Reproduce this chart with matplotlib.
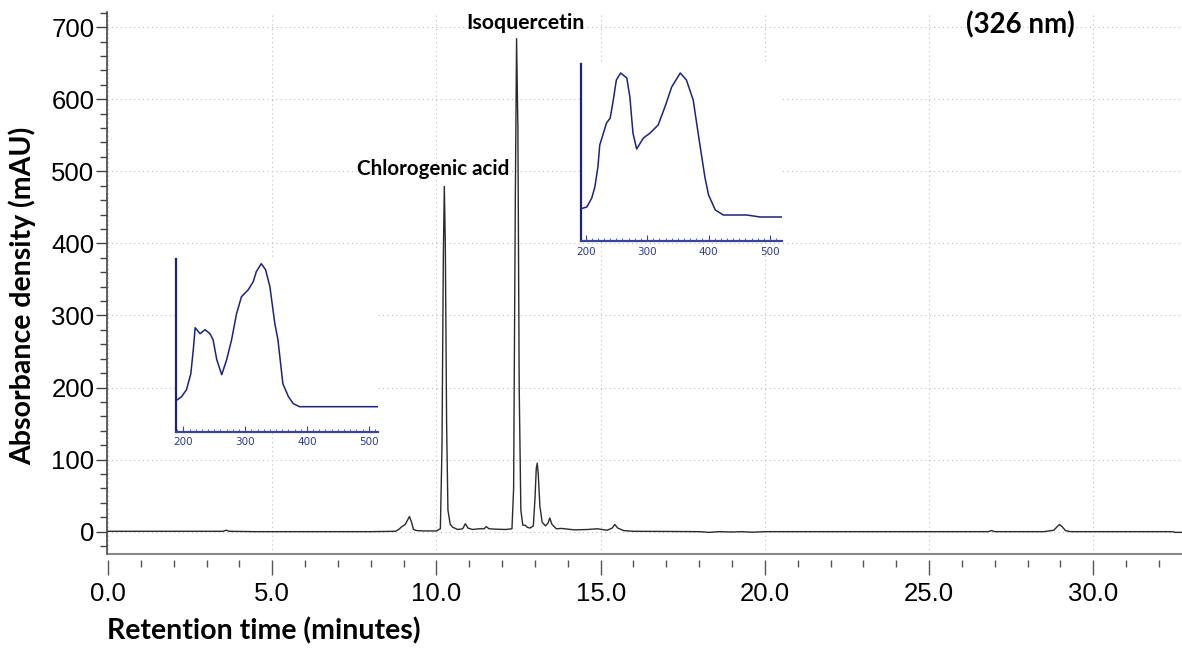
import matplotlib.pyplot as plt
from matplotlib.ticker import MultipleLocator

# chromatogram (retention time in min, absorbance in mAU)
rt = [0.0, 1.0, 2.0, 3.0, 3.5, 3.6, 3.7, 4.5, 6.0, 8.0,
      8.75, 8.85, 8.95, 9.05, 9.12, 9.18, 9.25, 9.3, 9.4, 9.6,
      10.0, 10.12, 10.17, 10.21, 10.24, 10.27, 10.31, 10.35, 10.42, 10.5,
      10.65, 10.8, 10.88, 10.96, 11.1, 11.3, 11.45, 11.52, 11.6, 11.8,
      12.1, 12.3, 12.35, 12.4, 12.44, 12.48, 12.52, 12.57, 12.63, 12.7,
      12.77, 12.85, 12.95, 13.0, 13.04, 13.07, 13.1, 13.15, 13.22, 13.32,
      13.4, 13.45, 13.52, 13.65, 13.8, 14.2, 14.6, 14.9, 15.2, 15.35,
      15.43, 15.52, 15.7, 16.0, 17.0, 18.0, 18.3, 18.6, 19.0, 19.3,
      19.6, 20.0, 22.0, 24.0, 26.8, 26.9, 27.0, 28.5, 28.8, 28.9,
      28.97, 29.05, 29.15, 29.3, 31.0, 32.4, 32.5, 32.7]
mau = [0.5, 0.5, 0.5, 0.5, 0.5, 2, 0.5, 0, 0, 0,
       0.5, 3, 7, 10, 16, 21, 12, 3, 1.5, 1,
       1, 4, 120, 380, 479, 400, 150, 30, 10, 6,
       3, 4, 11, 5, 3, 4, 4, 7, 4, 3.5,
       3, 4, 60, 450, 684, 560, 200, 30, 9, 9,
       6, 5, 8, 45, 88, 95, 80, 35, 13, 8,
       12, 19, 10, 4, 4.5, 2.5, 3, 4, 2, 5,
       10, 5, 1.5, 0.5, 0.3, 0, -1, 0, -0.5, 0,
       -0.8, 0, 0, 0, 0, 1.5, 0, 0, 2, 7,
       10, 7, 1.5, 0, 0, 0, -1, -1]

# UV spectrum of chlorogenic acid (nm, relative)
wl_cga = [188, 197, 205, 212, 216, 219, 227, 235, 243, 248, 254, 262, 270,
          278, 286, 294, 305, 313, 318, 326, 333, 340, 348, 353, 361, 370,
          378, 388, 515]
abs_cga = [31, 35, 42, 58, 82, 104, 98, 102, 98, 92, 72, 57, 72,
           92, 118, 135, 142, 150, 160, 168, 162, 145, 108, 92, 48, 35,
           28, 25, 25]

# UV spectrum of isoquercetin (nm, relative)
wl_iso = [191, 202, 210, 215, 220, 223, 229, 234, 240, 245, 250, 257, 267,
          272, 277, 283, 294, 305, 318, 329, 340, 354, 364, 375, 383, 394,
          400, 411, 424, 462, 484, 519]
abs_iso = [32, 34, 43, 54, 74, 96, 108, 118, 123, 141, 161, 168, 163,
           144, 108, 92, 103, 108, 116, 134, 154, 168, 161, 141, 108, 64,
           46, 31, 26, 26, 24, 24]

narrow = ['Liberation Sans Narrow', 'DejaVu Sans Condensed', 'Liberation Sans']
bold = ['Lato', 'DejaVu Sans']
navy = '#1b237f'

fig = plt.figure(figsize=(11.82, 6.5), dpi=100)
ax = fig.add_axes([107 / 1182, 1 - 554 / 650, 1 - 107 / 1182, (554 - 12) / 650])

ax.plot(rt, mau, color='#2b2b2b', lw=1.0)
ax.set_xlim(-0.03, 32.7)
ax.set_ylim(-31, 721)

ax.xaxis.set_major_locator(MultipleLocator(5))
ax.xaxis.set_minor_locator(MultipleLocator(1))
ax.yaxis.set_major_locator(MultipleLocator(100))
ax.yaxis.set_minor_locator(MultipleLocator(20))
ax.xaxis.set_major_formatter(lambda v, p: f'{v:.1f}')
ax.yaxis.set_major_formatter(lambda v, p: f'{v:.0f}')

for s in ['top', 'right']:
    ax.spines[s].set_visible(False)
ax.spines['left'].set_color('#444444')
ax.spines['left'].set_linewidth(1.2)
# ticks hang a little below the axis line, as in the original
ax.spines['bottom'].set_position(('outward', 4))
ax.spines['bottom'].set_visible(False)
ax.plot([0, 1], [0, 0], transform=ax.transAxes, color='#888888', lw=1.5,
        clip_on=False, solid_capstyle='butt')

ax.tick_params(axis='x', which='major', length=11, width=1, color='#555555', pad=5)
ax.tick_params(axis='x', which='minor', length=5, width=1, color='#555555')
ax.tick_params(axis='y', which='major', length=8, width=1, color='#444444', pad=1)
ax.tick_params(axis='y', which='minor', length=5, width=1, color='#444444')
for lab in ax.get_xticklabels() + ax.get_yticklabels():
    lab.set_family(narrow)
    lab.set_fontsize(18.5)

ax.grid(True, which='major', color='#bdbdbd', lw=0.8, ls=(0, (1, 3)))

ax.set_xlabel('Retention time (minutes)', family=bold, fontweight='bold',
              fontsize=20.5, loc='left', labelpad=8)
ax.set_ylabel('Absorbance density (mAU)', family=bold, fontweight='bold',
              fontsize=20.5)
ax.yaxis.set_label_coords(-0.066, 0.476)

ax.text(9.9, 495, 'Chlorogenic acid', family=bold, fontweight='bold',
        fontsize=14.8, ha='center', va='baseline')
ax.text(12.7, 698, 'Isoquercetin', family=bold, fontweight='bold',
        fontsize=15.3, ha='center', va='baseline')
ax.text(27.78, 691, '(326 nm)', family=bold, fontweight='bold',
        fontsize=20, ha='center', va='baseline')


def spectrum(rect, wl, ab, xlim, ylim):
    ins = fig.add_axes(rect)
    ins.set_facecolor('white')
    ins.plot(wl, ab, color=navy, lw=1.1)
    ins.set_xlim(*xlim)
    ins.set_ylim(*ylim)
    for s in ['top', 'right']:
        ins.spines[s].set_visible(False)
    ins.spines['left'].set_color(navy)
    ins.spines['left'].set_linewidth(1.6)
    ins.spines['bottom'].set_color('#3a44a0')
    ins.spines['bottom'].set_linewidth(1.6)
    ins.set_yticks([])
    ins.xaxis.set_major_locator(MultipleLocator(100))
    ins.xaxis.set_minor_locator(MultipleLocator(10))
    ins.tick_params(axis='x', which='major', direction='in', length=4,
                    color='#3a44a0', labelcolor='#2a3a9a', labelsize=7.5, pad=4)
    ins.tick_params(axis='x', which='minor', direction='in', length=2.5,
                    color='#3a44a0')
    return ins


spectrum([176 / 1182, 1 - 431.7 / 650, 202 / 1182, 172.7 / 650],
         wl_cga, abs_cga, (188, 515), (0, 172.7))
spectrum([580.7 / 1182, 1 - 241 / 650, 201 / 1182, 177 / 650],
         wl_iso, abs_iso, (192, 519), (0, 177))

fig.savefig('out.png', dpi=100)
